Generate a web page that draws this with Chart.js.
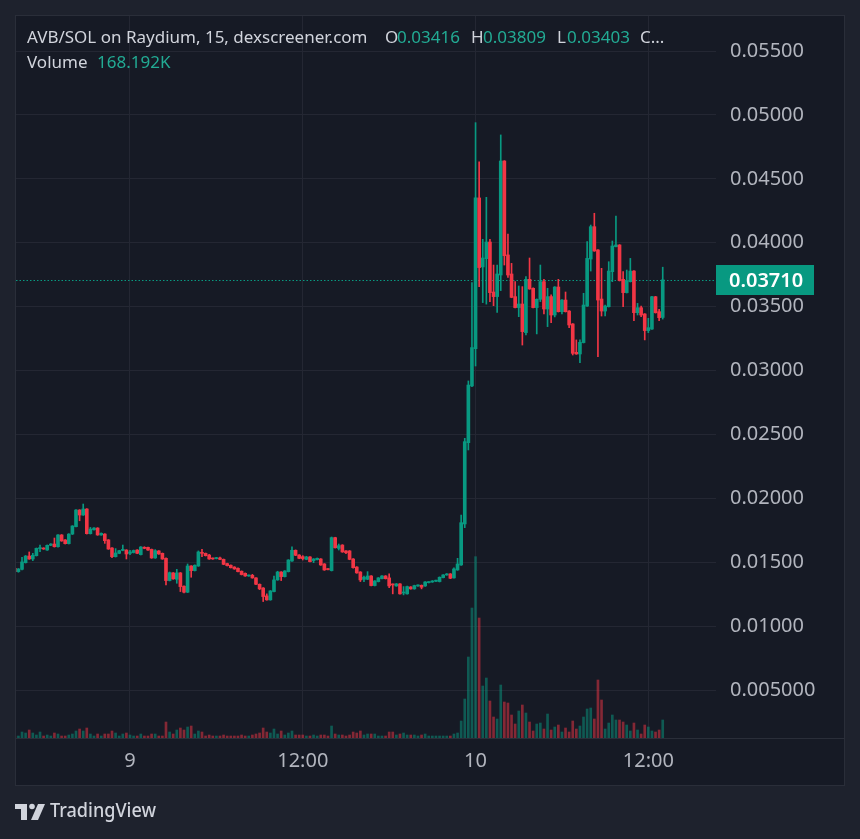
<!DOCTYPE html>
<html>
<head>
<meta charset="utf-8">
<script src="https://cdn.jsdelivr.net/npm/chart.js@4.4.1/dist/chart.umd.min.js"></script>
<style>
html, body { margin: 0; padding: 0; background: #1e222d; }
canvas { display: block; }
</style>
</head>
<body>
<canvas id="chart" width="860" height="839"></canvas>
<script>
// AVB/SOL 15 min candles. slot 0 = day 9 00:00, one slot per candle
var firstSlot = -32;

var opens = [
  .01453,.01427,.01445,.01497,.01549,.01526,.01552,.01607,.01609,.01596,
  .01633,.01643,.01622,.01714,.01675,.01646,.01721,.01779,.01909,.01870,
  .01917,.01724,.01755,.01768,.01714,.01721,.01675,.01612,.01544,.01570,
  .01593,.01596,.01570,.01576,.01596,.01560,.01617,.01617,.01601,.01534,
  .01589,.01570,.01531,.01357,.01417,.01367,.01417,.01313,.01266,.01471,
  .01435,.01471,.01578,.01570,.01557,.01531,.01529,.01534,.01523,.01490,
  .01477,.01463,.01453,.01430,.01414,.01393,.01398,.01378,.01328,.01299,
  .01237,.01206,.01271,.01362,.01424,.01388,.01427,.01510,.01594,.01557,
  .01544,.01523,.01542,.01513,.01521,.01526,.01487,.01448,.01435,.01693,
  .01609,.01635,.01589,.01589,.01526,.01463,.01424,.01367,.01367,.01393,
  .01318,.01349,.01372,.01393,.01378,.01328,.01315,.01331,.01260,.01253,
  .01307,.01292,.01315,.01320,.01315,.01341,.01346,.01352,.01349,.01380,
  .01401,.01409,.01378,.01440,.01479,.01800,.02436,.02880,.03172,.04351,
  .03811,.03876,.04006,.03615,.03579,.03748,.04640,.03905,.03756,.03579,
  .03493,.03521,.03297,.03714,.03644,.03493,.03558,.03696,.03482,.03579,
  .03435,.03654,.03461,.03552,.03466,.03365,.03143,.03130,.03219,.03505,
  .03873,.04126,.03944,.03560,.03466,.03500,.03774,.03970,.03983,.03714,
  .03610,.03696,.03779,.03453,.03492,.03443,.03313,.03325,.03578,.03461,
  .03416
];
var highs = [
  .01458,.01451,.01539,.01553,.01581,.01570,.01612,.01635,.01614,.01636,
  .01646,.01690,.01717,.01717,.01678,.01724,.01787,.01912,.01912,.01956,
  .01920,.01773,.01771,.01771,.01730,.01724,.01678,.01615,.01607,.01594,
  .01635,.01599,.01594,.01596,.01599,.01623,.01622,.01620,.01604,.01599,
  .01592,.01573,.01534,.01424,.01420,.01445,.01420,.01316,.01487,.01474,
  .01480,.01589,.01601,.01573,.01562,.01534,.01539,.01541,.01526,.01493,
  .01480,.01466,.01456,.01433,.01417,.01401,.01406,.01381,.01331,.01302,
  .01253,.01279,.01393,.01430,.01427,.01435,.01521,.01622,.01597,.01560,
  .01552,.01547,.01545,.01529,.01534,.01529,.01490,.01451,.01698,.01696,
  .01643,.01638,.01592,.01592,.01529,.01466,.01427,.01393,.01427,.01396,
  .01357,.01381,.01396,.01396,.01409,.01331,.01334,.01334,.01310,.01313,
  .01310,.01321,.01323,.01323,.01349,.01349,.01357,.01360,.01386,.01404,
  .01412,.01412,.01456,.01531,.01870,.02470,.02919,.03688,.04940,.04634,
  .04027,.04356,.04027,.03826,.03826,.04844,.04643,.04069,.03839,.03696,
  .03662,.03657,.03735,.03881,.03647,.03561,.03826,.03714,.03644,.03592,
  .03657,.03714,.03555,.03615,.03469,.03368,.03240,.03240,.03605,.04009,
  .04139,.04231,.03947,.03800,.03513,.03852,.04014,.04210,.03986,.03774,
  .03787,.03878,.03782,.03526,.03505,.03446,.03409,.03581,.03581,.03480,
  .03809
];
var lows = [
  .01424,.01422,.01440,.01494,.01523,.01513,.01549,.01583,.01601,.01593,
  .01630,.01619,.01619,.01664,.01643,.01643,.01717,.01776,.01825,.01867,
  .01721,.01721,.01752,.01711,.01711,.01648,.01601,.01536,.01541,.01567,
  .01590,.01526,.01560,.01573,.01567,.01557,.01606,.01593,.01531,.01531,
  .01562,.01523,.01323,.01354,.01367,.01336,.01271,.01261,.01263,.01383,
  .01432,.01468,.01544,.01549,.01523,.01523,.01526,.01520,.01481,.01471,
  .01455,.01445,.01424,.01401,.01390,.01390,.01375,.01325,.01286,.01193,
  .01203,.01203,.01268,.01359,.01357,.01385,.01424,.01507,.01552,.01528,
  .01518,.01520,.01502,.01497,.01518,.01476,.01437,.01440,.01432,.01611,
  .01596,.01578,.01568,.01520,.01455,.01414,.01349,.01349,.01364,.01315,
  .01315,.01346,.01369,.01369,.01302,.01253,.01312,.01250,.01245,.01250,
  .01289,.01289,.01312,.01292,.01312,.01338,.01343,.01349,.01346,.01377,
  .01398,.01372,.01375,.01437,.01476,.01771,.02379,.02875,.03036,.03657,
  .03532,.03520,.03539,.03508,.03455,.03626,.03826,.03730,.03570,.03490,
  .03422,.03200,.03280,.03636,.03490,.03287,.03540,.03443,.03344,.03375,
  .03420,.03458,.03443,.03458,.03336,.03122,.03127,.03062,.03216,.03502,
  .03779,.03933,.03109,.03427,.03427,.03497,.03696,.03967,.03701,.03500,
  .03607,.03693,.03391,.03435,.03422,.03240,.03297,.03322,.03450,.03391,
  .03403
];
var closes = [
  .01427,.01448,.01503,.01549,.01526,.01555,.01609,.01609,.01604,.01633,
  .01643,.01622,.01714,.01667,.01646,.01721,.01784,.01909,.01870,.01917,
  .01724,.01760,.01768,.01714,.01727,.01669,.01604,.01544,.01573,.01591,
  .01596,.01565,.01581,.01593,.01570,.01620,.01609,.01596,.01534,.01591,
  .01565,.01526,.01357,.01419,.01370,.01417,.01310,.01266,.01471,.01435,
  .01477,.01581,.01570,.01552,.01526,.01526,.01534,.01523,.01484,.01474,
  .01458,.01448,.01427,.01404,.01393,.01398,.01378,.01328,.01292,.01232,
  .01206,.01276,.01362,.01424,.01388,.01432,.01518,.01594,.01555,.01531,
  .01529,.01542,.01505,.01526,.01531,.01479,.01440,.01443,.01693,.01614,
  .01630,.01581,.01575,.01523,.01458,.01417,.01362,.01383,.01393,.01318,
  .01354,.01378,.01393,.01372,.01315,.01323,.01331,.01253,.01263,.01310,
  .01292,.01318,.01320,.01305,.01346,.01346,.01352,.01357,.01383,.01401,
  .01409,.01375,.01448,.01487,.01810,.02444,.02887,.03180,.04351,.03806,
  .03881,.04006,.03610,.03579,.03756,.04640,.03899,.03748,.03573,.03493,
  .03521,.03305,.03714,.03639,.03493,.03558,.03696,.03482,.03579,.03435,
  .03654,.03461,.03552,.03461,.03357,.03135,.03130,.03221,.03513,.03878,
  .04126,.03936,.03552,.03466,.03505,.03779,.03975,.03983,.03704,.03610,
  .03704,.03779,.03453,.03492,.03435,.03313,.03336,.03578,.03453,.03414,
  .03710
];
// volume in thousands
var volumes = [
  18.7,18.7,56,46.7,74.7,46.7,28,56,18.7,28,
  18.7,46.7,37.4,18.7,18.7,28,37.4,65.4,84,65.4,
  93.4,37.4,18.7,37.4,18.7,37.4,37.4,65.4,46.7,18.7,
  37.4,46.7,28,18.7,18.7,37.4,18.7,18.7,37.4,37.4,
  18.7,18.7,149.4,56,37.4,74.7,93.4,74.7,102.7,112,
  37.4,65.4,56,18.7,28,18.7,18.7,18.7,28,18.7,
  18.7,18.7,18.7,28,18.7,18.7,28,37.4,46.7,93.4,
  56,46.7,84,37.4,65.4,28,46.7,65.4,28,28,
  28,18.7,18.7,28,18.7,28,28,18.7,112,37.4,
  28,28,18.7,28,56,46.7,65.4,28,37.4,37.4,
  37.4,18.7,18.7,18.7,56,56,28,37.4,46.7,28,
  28,28,18.7,28,37.4,18.7,18.7,18.7,18.7,18.7,
  18.7,18.7,37.4,46.7,158.8,364.2,756.5,1214,1693.5,1120.7,
  485.6,560.3,345.5,196.1,177.4,495,336.2,326.9,214.8,130.7,
  252.2,308.2,233.5,149.4,65.4,130.7,140,84,224.1,74.7,
  102.7,121.4,56,93.4,56,158.8,84,112,196.1,270.8,
  280.2,177.4,541.7,354.9,84,140,214.8,168.1,168.1,149.4,
  121.4,65.4,140,74.7,37.4,121.4,102.7,65.4,56,74.7,
  168.2
];

var tickSlots = [0, 48, 96, 144];
var tickLabels = ['9', '12:00', '10', '12:00'];
var priceTicks = [0.005, 0.010, 0.015, 0.020, 0.025, 0.030, 0.035, 0.040, 0.045, 0.050, 0.055];
var lastPrice = 0.03710;

var GREEN = '#089981';
var RED = '#f23645';
var FONT = 'Noto Sans';

var bodies = [], wicks = [], vols = [], colors = [], volColors = [];
for (var i = 0; i < opens.length; i++) {
  var x = firstSlot + i;
  var up = closes[i] >= opens[i];
  bodies.push({x: x, y: [opens[i], closes[i]]});
  wicks.push({x: x, y: [lows[i], highs[i]]});
  vols.push({x: x, y: volumes[i]});
  colors.push(up ? GREEN : RED);
  volColors.push(up ? 'rgba(8,153,129,0.5)' : 'rgba(242,54,69,0.5)');
}

var tvPlugin = {
  id: 'tvLook',
  beforeDraw: function(chart) {
    var c = chart.ctx;
    c.save();
    c.fillStyle = '#1e222d';
    c.fillRect(0, 0, 860, 839);
    c.fillStyle = '#161a25';
    c.fillRect(15, 15, 830, 771);
    c.strokeStyle = '#2a2e39';
    c.lineWidth = 1;
    c.strokeRect(15.5, 15.5, 829, 770);
    c.restore();
  },
  beforeDatasetsDraw: function(chart) {
    var c = chart.ctx, a = chart.chartArea;
    var y = Math.round(chart.scales.y.getPixelForValue(lastPrice)) + 0.5;
    c.save();
    c.strokeStyle = GREEN;
    c.lineWidth = 1;
    c.setLineDash([1.5, 2]);
    c.beginPath();
    c.moveTo(a.left, y);
    c.lineTo(a.right, y);
    c.stroke();
    c.restore();
  },
  afterDraw: function(chart) {
    var c = chart.ctx;
    c.save();
    // time axis separator
    c.strokeStyle = '#2a2e39';
    c.beginPath();
    c.moveTo(16, 738.5);
    c.lineTo(845, 738.5);
    c.stroke();

    // legend
    c.textBaseline = 'middle';
    c.font = '17px "' + FONT + '"';
    c.fillStyle = '#d1d4dc';
    c.fillText('AVB/SOL on Raydium, 15, dexscreener.com', 27, 38);
    c.fillText('O', 385, 38);
    c.fillText('H', 471, 38);
    c.fillText('L', 557, 38);
    c.fillText('C...', 640, 38);
    c.fillText('Volume', 27, 63);
    c.fillStyle = '#22ab94';
    c.fillText('0.03416', 397, 38);
    c.fillText('0.03809', 483, 38);
    c.fillText('0.03403', 567, 38);
    c.fillText('168.192K', 97, 63);

    // last price tag
    var y = chart.scales.y.getPixelForValue(lastPrice);
    c.fillStyle = GREEN;
    c.fillRect(716, Math.round(y) - 15, 98, 30);
    c.fillStyle = '#ffffff';
    c.font = '600 20px "' + FONT + '"';
    c.fillText(lastPrice.toFixed(5), 729, y + 1);

    // TradingView mark
    c.fillStyle = '#d1d4dc';
    c.fillRect(15, 804, 12, 5);
    c.fillRect(21, 804, 6, 16);
    c.beginPath();
    c.arc(32, 806.5, 2.8, 0, Math.PI * 2);
    c.fill();
    c.beginPath();
    c.moveTo(38, 804);
    c.lineTo(45, 804);
    c.lineTo(38, 820);
    c.lineTo(31, 820);
    c.closePath();
    c.fill();
    c.font = '500 19px "' + FONT + '"';
    var w = c.measureText('TradingView').width;
    c.translate(50, 812);
    c.scale(106 / w, 1);
    c.fillText('TradingView', 0, 0);
    c.restore();
  }
};

new Chart(document.getElementById('chart'), {
  type: 'bar',
  data: {
    datasets: [
      {data: vols, yAxisID: 'vol', backgroundColor: volColors, barThickness: 2, grouped: false, order: 3},
      {data: wicks, yAxisID: 'y', backgroundColor: colors, barThickness: 1, grouped: false, order: 2},
      {data: bodies, yAxisID: 'y', backgroundColor: colors, barThickness: 3, grouped: false, order: 1, minBarLength: 1}
    ]
  },
  options: {
    responsive: false,
    animation: false,
    devicePixelRatio: 1,
    layout: {padding: {left: 16, top: 16, right: 15, bottom: 53}},
    plugins: {legend: {display: false}, tooltip: {enabled: false}},
    scales: {
      x: {
        type: 'linear',
        min: -31.67,
        max: 162.8,
        offset: false,
        grid: {color: '#242733', drawTicks: false, offset: false},
        border: {display: false},
        afterBuildTicks: function(axis) {
          axis.ticks = tickSlots.map(function(v) { return {value: v}; });
        },
        afterFit: function(axis) {
          axis.height = 48;
          axis.paddingLeft = 0;
          axis.paddingRight = 0;
        },
        ticks: {
          color: '#b2b5be',
          font: {family: FONT, size: 20},
          padding: 11,
          maxRotation: 0,
          autoSkip: false,
          callback: function(v) {
            var j = tickSlots.indexOf(v);
            return j < 0 ? '' : tickLabels[j];
          }
        }
      },
      y: {
        position: 'right',
        min: 0.001252,
        max: 0.057746,
        grid: {color: '#242733', drawTicks: false},
        border: {display: false},
        afterBuildTicks: function(axis) {
          axis.ticks = priceTicks.map(function(v) { return {value: v}; });
        },
        afterFit: function(axis) {
          axis.width = 129;
          axis.paddingTop = 0;
          axis.paddingBottom = 0;
        },
        ticks: {
          color: '#b2b5be',
          font: {family: FONT, size: 20},
          padding: 14,
          callback: function(v) { return Number(v).toPrecision(4); }
        }
      },
      vol: {display: false, min: 0, max: 6743}
    }
  },
  plugins: [tvPlugin]
});
</script>
</body>
</html>
